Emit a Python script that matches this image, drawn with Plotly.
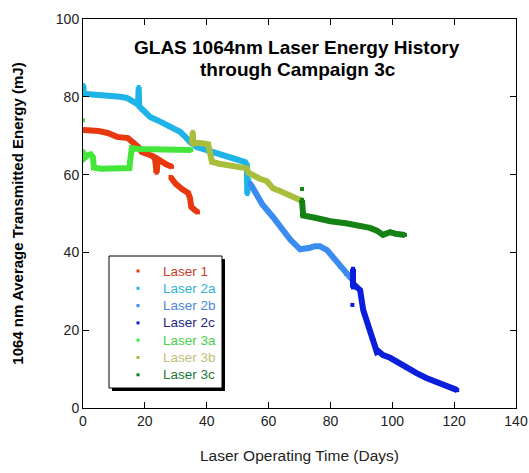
import plotly.graph_objects as go

# ---------------- data ----------------
laser1_days = [0, 2, 5, 8, 11, 14.5, 16.2, 18, 19, 21, 22.5, 23.3, 23.5, 23.8, 24.2, 25.5, 27, 28.8,
               None, 28.3, 30, 32, 34, 34.6, 35, 36, 37.2]
laser1_mj = [71.5, 71.5, 71.2, 70.7, 69.7, 69.4, 68.4, 67, 65.8, 65.3, 64.8, 64, 61, 60.5, 64, 63.2, 62.6, 62,
             None, 59.4, 57.6, 56.3, 55.3, 54, 51.7, 51, 50.3]

laser2a_days = [0, 0.1, 0.3, 3, 6, 9.7, 12, 14.2, 16, 16.8, 17.8, 18, 18.2, 19.4, 21.7, 24, 25.9, 28,
                31.4, 33, 34.6, 36.8, 39, 42, 45, 48.5, 52.4, 53, 53.1, 53.4, 53.6]
laser2a_mj = [81, 83, 80.8, 80.6, 80.5, 80.2, 80, 79.7, 79, 78.4, 78, 82.5, 77.5, 76.6, 74.8, 74, 73.3, 72.2,
              71, 69.8, 68.4, 67.1, 66.5, 65.8, 65, 64.3, 63.2, 62.5, 55, 59, 56.5]

laser2b_days = [54, 56, 58, 61.4, 64, 67, 70.2, 72, 73.4, 75, 76.6, 78.9, 81, 83.1, 85, 87]
laser2b_mj = [57.8, 55, 52.3, 49.1, 46.2, 43.3, 40.8, 40.9, 41.2, 41.6, 41.6, 40.6, 38.5, 36.3, 34.5, 33]

laser2c_days = [87.1, None, 87.3, 87.3, 88, 89.6, 90.6, 92.3, 93.9, 95, 95.5, 97, 99.3, 102, 104.6,
                108, 111, 115.4, 118, 121]
laser2c_mj = [26.5, None, 35.8, 31, 31.5, 30.3, 25.2, 20.8, 17.5, 14.4, 14.6, 13.6, 12.9, 11.6, 10.3,
              8.9, 7.7, 6.4, 5.6, 4.6]

laser3a_days = [0, None, 0, 0.5, 1.5, 2.5, 3.2, 3.5, 6, 9, 12, 15, 15.3, 15.8, 18, 22, 26, 30, 33, 35]
laser3a_mj = [74, None, 66, 64.3, 65, 65.2, 64.5, 61.8, 61.5, 61.6, 61.7, 61.7, 64, 66.8, 66.6, 66.5,
              66.4, 66.4, 66.5, 66.3]

laser3b_days = [35.2, 35.5, 35.6, 35.8, 37, 39, 40.5, 41.2, 41.7, 44, 47, 50, 53, 53.5, 55, 57, 59.5,
                61.4, 63.7, 66, 68, 70.2, 70.7]
laser3b_mj = [68, 71, 68.3, 68, 68.2, 68, 67.8, 65, 63.3, 62.8, 62.4, 62, 61.6, 60.5, 59.8, 59, 58.3,
              56.5, 55.8, 55, 54.3, 53.7, 53.3]

laser3c_days = [70.8, None, 70.8, 70.8, 71.2, 75, 80, 85, 90, 92.8, 95, 97, 99.3, 101, 104.1]
laser3c_mj = [56.3, None, 53.5, 49.8, 49.5, 48.9, 48, 47.5, 46.8, 46.3, 45.6, 44.5, 45.2, 44.8, 44.5]

series_names = ["Laser 1", "Laser 2a", "Laser 2b", "Laser 2c", "Laser 3a", "Laser 3b", "Laser 3c"]
series_x = [laser1_days, laser2a_days, laser2b_days, laser2c_days, laser3a_days, laser3b_days, laser3c_days]
series_y = [laser1_mj, laser2a_mj, laser2b_mj, laser2c_mj, laser3a_mj, laser3b_mj, laser3c_mj]

x_ticks = [0, 20, 40, 60, 80, 100, 120, 140]
y_ticks = [0, 20, 40, 60, 80, 100]

# ---------------- styles ----------------
mark_colors = ["#E8380E", "#1EB4E8", "#3A8CF0", "#0A1EDC", "#44E63A", "#A8BE3C", "#148214"]
text_colors = ["#C84028", "#30B0D8", "#4A88D8", "#202880", "#48D048", "#C0C078", "#207838"]
FONT = "Liberation Sans, Arial, sans-serif"

fig = go.Figure()
for name, xs, ys, c in zip(series_names, series_x, series_y, mark_colors):
    fig.add_trace(go.Scatter(
        x=xs, y=ys, mode="lines+markers", name=name, showlegend=False,
        line=dict(color=c, width=6), marker=dict(color=c, size=4, symbol="square"),
        connectgaps=False,
    ))

L, R, T, B = 83, 13, 19, 65
W, H = 529, 473
pw, ph = W - L - R, H - T - B

def px_x(p):
    return (p - L) / pw

def px_y(p):
    return (H - B - p) / ph

# ---- legend box (drawn as paper-anchored decoration) ----
LB_L, LB_R, LB_T, LB_B = 109, 222, 256, 388
SH = 3
fig.add_shape(type="rect", xref="paper", yref="paper",
              x0=px_x(LB_L + SH), x1=px_x(LB_R + SH), y0=px_y(LB_B + SH), y1=px_y(LB_T + SH),
              fillcolor="black", line=dict(width=0), layer="above")
fig.add_shape(type="rect", xref="paper", yref="paper",
              x0=px_x(LB_L), x1=px_x(LB_R), y0=px_y(LB_B), y1=px_y(LB_T),
              fillcolor="white", line=dict(color="black", width=1), layer="above")
ITEM0, STEP = 271, 17.3
for i, (name, c, tc) in enumerate(zip(series_names, mark_colors, text_colors)):
    yc = ITEM0 + i * STEP
    fig.add_shape(type="rect", xref="paper", yref="paper",
                  x0=px_x(136.5), x1=px_x(139.5), y0=px_y(yc + 1.5), y1=px_y(yc - 1.5),
                  fillcolor=c, line=dict(width=0), layer="above")
    fig.add_annotation(text=name, xref="paper", yref="paper", x=px_x(161), y=px_y(yc),
                       xanchor="left", yanchor="middle", showarrow=False,
                       font=dict(family=FONT, size=13.5, color=tc))

fig.add_annotation(text="<b>GLAS 1064nm Laser Energy History</b>", xref="paper", yref="paper",
                   x=px_x(297), y=px_y(48), showarrow=False, xanchor="center", yanchor="middle",
                   font=dict(family=FONT, size=19, color="black"))
fig.add_annotation(text="<b>through Campaign 3c</b>", xref="paper", yref="paper",
                   x=px_x(298), y=px_y(70), showarrow=False, xanchor="center", yanchor="middle",
                   font=dict(family=FONT, size=19, color="black"))

axis_common = dict(showline=True, linecolor="black", linewidth=1, mirror="ticks",
                   ticks="inside", ticklen=6, tickcolor="black", showgrid=False, zeroline=False,
                   automargin=False,
                   tickfont=dict(family=FONT, size=14, color="#222222"))

fig.update_layout(
    width=W, height=H,
    margin=dict(l=L, r=R, t=T, b=B),
    paper_bgcolor="white", plot_bgcolor="white",
    font=dict(family=FONT, color="black"),
    showlegend=False,
    xaxis=dict(range=[0, 140], tickvals=x_ticks, **axis_common,
               title=dict(text="Laser Operating Time (Days)", font=dict(family=FONT, size=15.5, color="#222222"),
                          standoff=22)),
    yaxis=dict(range=[0, 100], tickvals=y_ticks, **axis_common,
               title=dict(text="<b>1064 nm Average Transmitted Energy (mJ)</b>",
                          font=dict(family=FONT, size=15, color="black"), standoff=28)),
)

fig.write_html("out.html")
